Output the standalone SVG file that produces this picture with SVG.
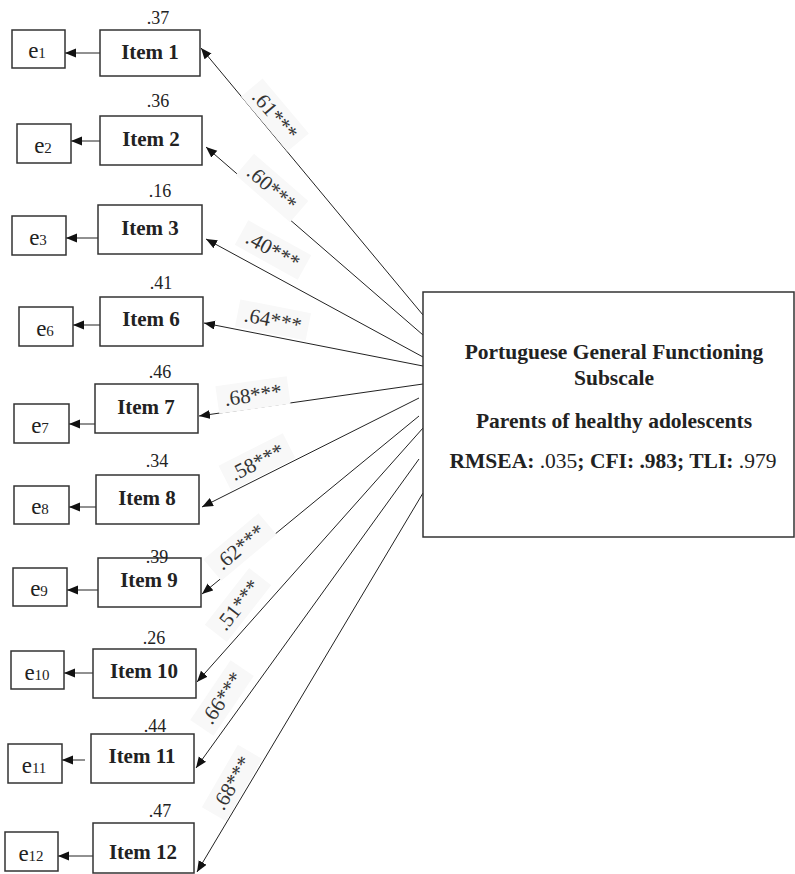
<svg xmlns="http://www.w3.org/2000/svg" width="795" height="874" viewBox="0 0 795 874">
<defs>
<marker id="ah" markerUnits="userSpaceOnUse" markerWidth="12" markerHeight="10" refX="11" refY="4.5" orient="auto">
<path d="M0,0 L11,4.5 L0,9 z" fill="#111"/>
</marker>
<style>
.box{fill:#fff;stroke:#333;stroke-width:1.5}
.it{font-family:"Liberation Serif",serif;font-weight:bold;font-size:21px;fill:#222;text-anchor:middle}
.ev{font-family:"Liberation Serif",serif;font-size:23px;fill:#222;text-anchor:middle}
.ev tspan{font-size:15px}
.r2{font-family:"Liberation Serif",serif;font-size:18px;fill:#222;text-anchor:middle}
.ln{stroke:#222;stroke-width:1;fill:none;marker-end:url(#ah)}
.lb{font-family:"Liberation Serif",serif;font-size:21px;fill:#333;text-anchor:middle}
.bg{fill:#f8f8f8}
.ft{font-family:"Liberation Serif",serif;font-size:21.5px;fill:#222;text-anchor:middle}
</style>
</defs>
<rect width="795" height="874" fill="#fff"/>

<g id="connectors">
<line class="ln" x1="100" y1="53" x2="65" y2="53"/>
<line class="ln" x1="100" y1="141" x2="71" y2="141"/>
<line class="ln" x1="98" y1="238" x2="66" y2="238"/>
<line class="ln" x1="100" y1="325" x2="73" y2="325"/>
<line class="ln" x1="95" y1="424" x2="69" y2="424"/>
<line class="ln" x1="96" y1="507" x2="69" y2="507"/>
<line class="ln" x1="98" y1="590" x2="67" y2="590"/>
<line class="ln" x1="93" y1="673" x2="64" y2="673"/>
<line class="ln" x1="85" y1="760" x2="62" y2="760"/>
<line class="ln" x1="93" y1="856" x2="58" y2="856"/>

<line class="ln" x1="423" y1="315" x2="201" y2="48"/>
<line class="ln" x1="423" y1="335" x2="206" y2="147"/>
<line class="ln" x1="423" y1="357" x2="206" y2="239"/>
<line class="ln" x1="423" y1="366" x2="204" y2="323"/>
<line class="ln" x1="423" y1="384" x2="199" y2="416"/>
<line class="ln" x1="419" y1="398" x2="202" y2="507"/>
<line class="ln" x1="419" y1="416" x2="202" y2="594"/>
<line class="ln" x1="423" y1="428" x2="197" y2="682"/>
<line class="ln" x1="419" y1="459" x2="196" y2="768"/>
<line class="ln" x1="423" y1="493" x2="197" y2="872"/>

<g transform="translate(275,115) rotate(50)"><rect class="bg" x="-36" y="-14" width="72" height="28"/><text class="lb" y="7">.61***</text></g>
<g transform="translate(272,188) rotate(41)"><rect class="bg" x="-36" y="-14" width="72" height="28"/><text class="lb" y="7">.60***</text></g>
<g transform="translate(273,250) rotate(29)"><rect class="bg" x="-36" y="-14" width="72" height="28"/><text class="lb" y="7">.40***</text></g>
<g transform="translate(273,320) rotate(11)"><rect class="bg" x="-36" y="-14" width="72" height="28"/><text class="lb" y="7">.64***</text></g>
<g transform="translate(253,395) rotate(-8)"><rect class="bg" x="-36" y="-14" width="72" height="28"/><text class="lb" y="7">.68***</text></g>
<g transform="translate(257,462) rotate(-27)"><rect class="bg" x="-36" y="-14" width="72" height="28"/><text class="lb" y="7">.58***</text></g>
<g transform="translate(240,547) rotate(-40)"><rect class="bg" x="-36" y="-14" width="72" height="28"/><text class="lb" y="7">.62***</text></g>
<g transform="translate(238,605) rotate(-52)"><rect class="bg" x="-36" y="-14" width="72" height="28"/><text class="lb" y="7">.51***</text></g>
<g transform="translate(222,698) rotate(-56)"><rect class="bg" x="-36" y="-14" width="72" height="28"/><text class="lb" y="7">.66***</text></g>
<g transform="translate(232,783) rotate(-60)"><rect class="bg" x="-36" y="-14" width="72" height="28"/><text class="lb" y="7">.68***</text></g>
</g>

<g id="factor">
<rect class="box" x="423" y="292" width="371" height="245"/>
<text class="ft" x="614" y="359" font-weight="bold">Portuguese General Functioning</text>
<text class="ft" x="614" y="385" font-weight="bold">Subscale</text>
<text class="ft" x="614" y="428" font-weight="bold">Parents of healthy adolescents</text>
<text class="ft" x="613" y="468"><tspan font-weight="bold">RMSEA:</tspan> .035<tspan font-weight="bold">; CFI: .983; TLI:</tspan> .979</text>
</g>

<g id="item1"><rect class="box" x="100" y="30" width="100" height="46"/><text class="it" x="150" y="59">Item 1</text><text class="r2" x="158" y="24">.37</text></g>
<g id="item2"><rect class="box" x="100" y="116" width="102" height="49"/><text class="it" x="151" y="146">Item 2</text><text class="r2" x="158" y="107">.36</text></g>
<g id="item3"><rect class="box" x="98" y="205" width="104" height="49"/><text class="it" x="150" y="235">Item 3</text><text class="r2" x="160" y="197">.16</text></g>
<g id="item6"><rect class="box" x="100" y="297" width="103" height="49"/><text class="it" x="151" y="326">Item 6</text><text class="r2" x="161" y="289">.41</text></g>
<g id="item7"><rect class="box" x="95" y="384" width="103" height="49"/><text class="it" x="146" y="414">Item 7</text><text class="r2" x="160" y="378">.46</text></g>
<g id="item8"><rect class="box" x="96" y="475" width="103" height="49"/><text class="it" x="147" y="505">Item 8</text><text class="r2" x="157" y="467">.34</text></g>
<g id="item9"><rect class="box" x="98" y="558" width="103" height="49"/><text class="it" x="149" y="587">Item 9</text><text class="r2" x="157" y="563">.39</text></g>
<g id="item10"><rect class="box" x="93" y="649" width="103" height="49"/><text class="it" x="144" y="678">Item 10</text><text class="r2" x="154" y="644">.26</text></g>
<g id="item11"><rect class="box" x="91" y="734" width="103" height="49"/><text class="it" x="142" y="763">Item 11</text><text class="r2" x="155" y="732">.44</text></g>
<g id="item12"><rect class="box" x="93" y="823" width="101" height="50"/><text class="it" x="143" y="859">Item 12</text><text class="r2" x="160" y="817">.47</text></g>

<g id="e1"><rect class="box" x="12" y="30" width="53" height="38"/><text class="ev" x="37" y="58">e<tspan>1</tspan></text></g>
<g id="e2"><rect class="box" x="17" y="124" width="54" height="39"/><text class="ev" x="43" y="153">e<tspan>2</tspan></text></g>
<g id="e3"><rect class="box" x="12" y="216" width="54" height="39"/><text class="ev" x="38" y="245">e<tspan>3</tspan></text></g>
<g id="e6"><rect class="box" x="19" y="307" width="54" height="39"/><text class="ev" x="45" y="336">e<tspan>6</tspan></text></g>
<g id="e7"><rect class="box" x="14" y="404" width="55" height="39"/><text class="ev" x="40" y="433">e<tspan>7</tspan></text></g>
<g id="e8"><rect class="box" x="14" y="486" width="55" height="38"/><text class="ev" x="40" y="514">e<tspan>8</tspan></text></g>
<g id="e9"><rect class="box" x="13" y="568" width="54" height="38"/><text class="ev" x="39" y="596">e<tspan>9</tspan></text></g>
<g id="e10"><rect class="box" x="11" y="651" width="53" height="38"/><text class="ev" x="37" y="680">e<tspan>10</tspan></text></g>
<g id="e11"><rect class="box" x="8" y="744" width="54" height="39"/><text class="ev" x="34" y="773">e<tspan>11</tspan></text></g>
<g id="e12"><rect class="box" x="5" y="832" width="53" height="39"/><text class="ev" x="31" y="861">e<tspan>12</tspan></text></g>
</svg>
